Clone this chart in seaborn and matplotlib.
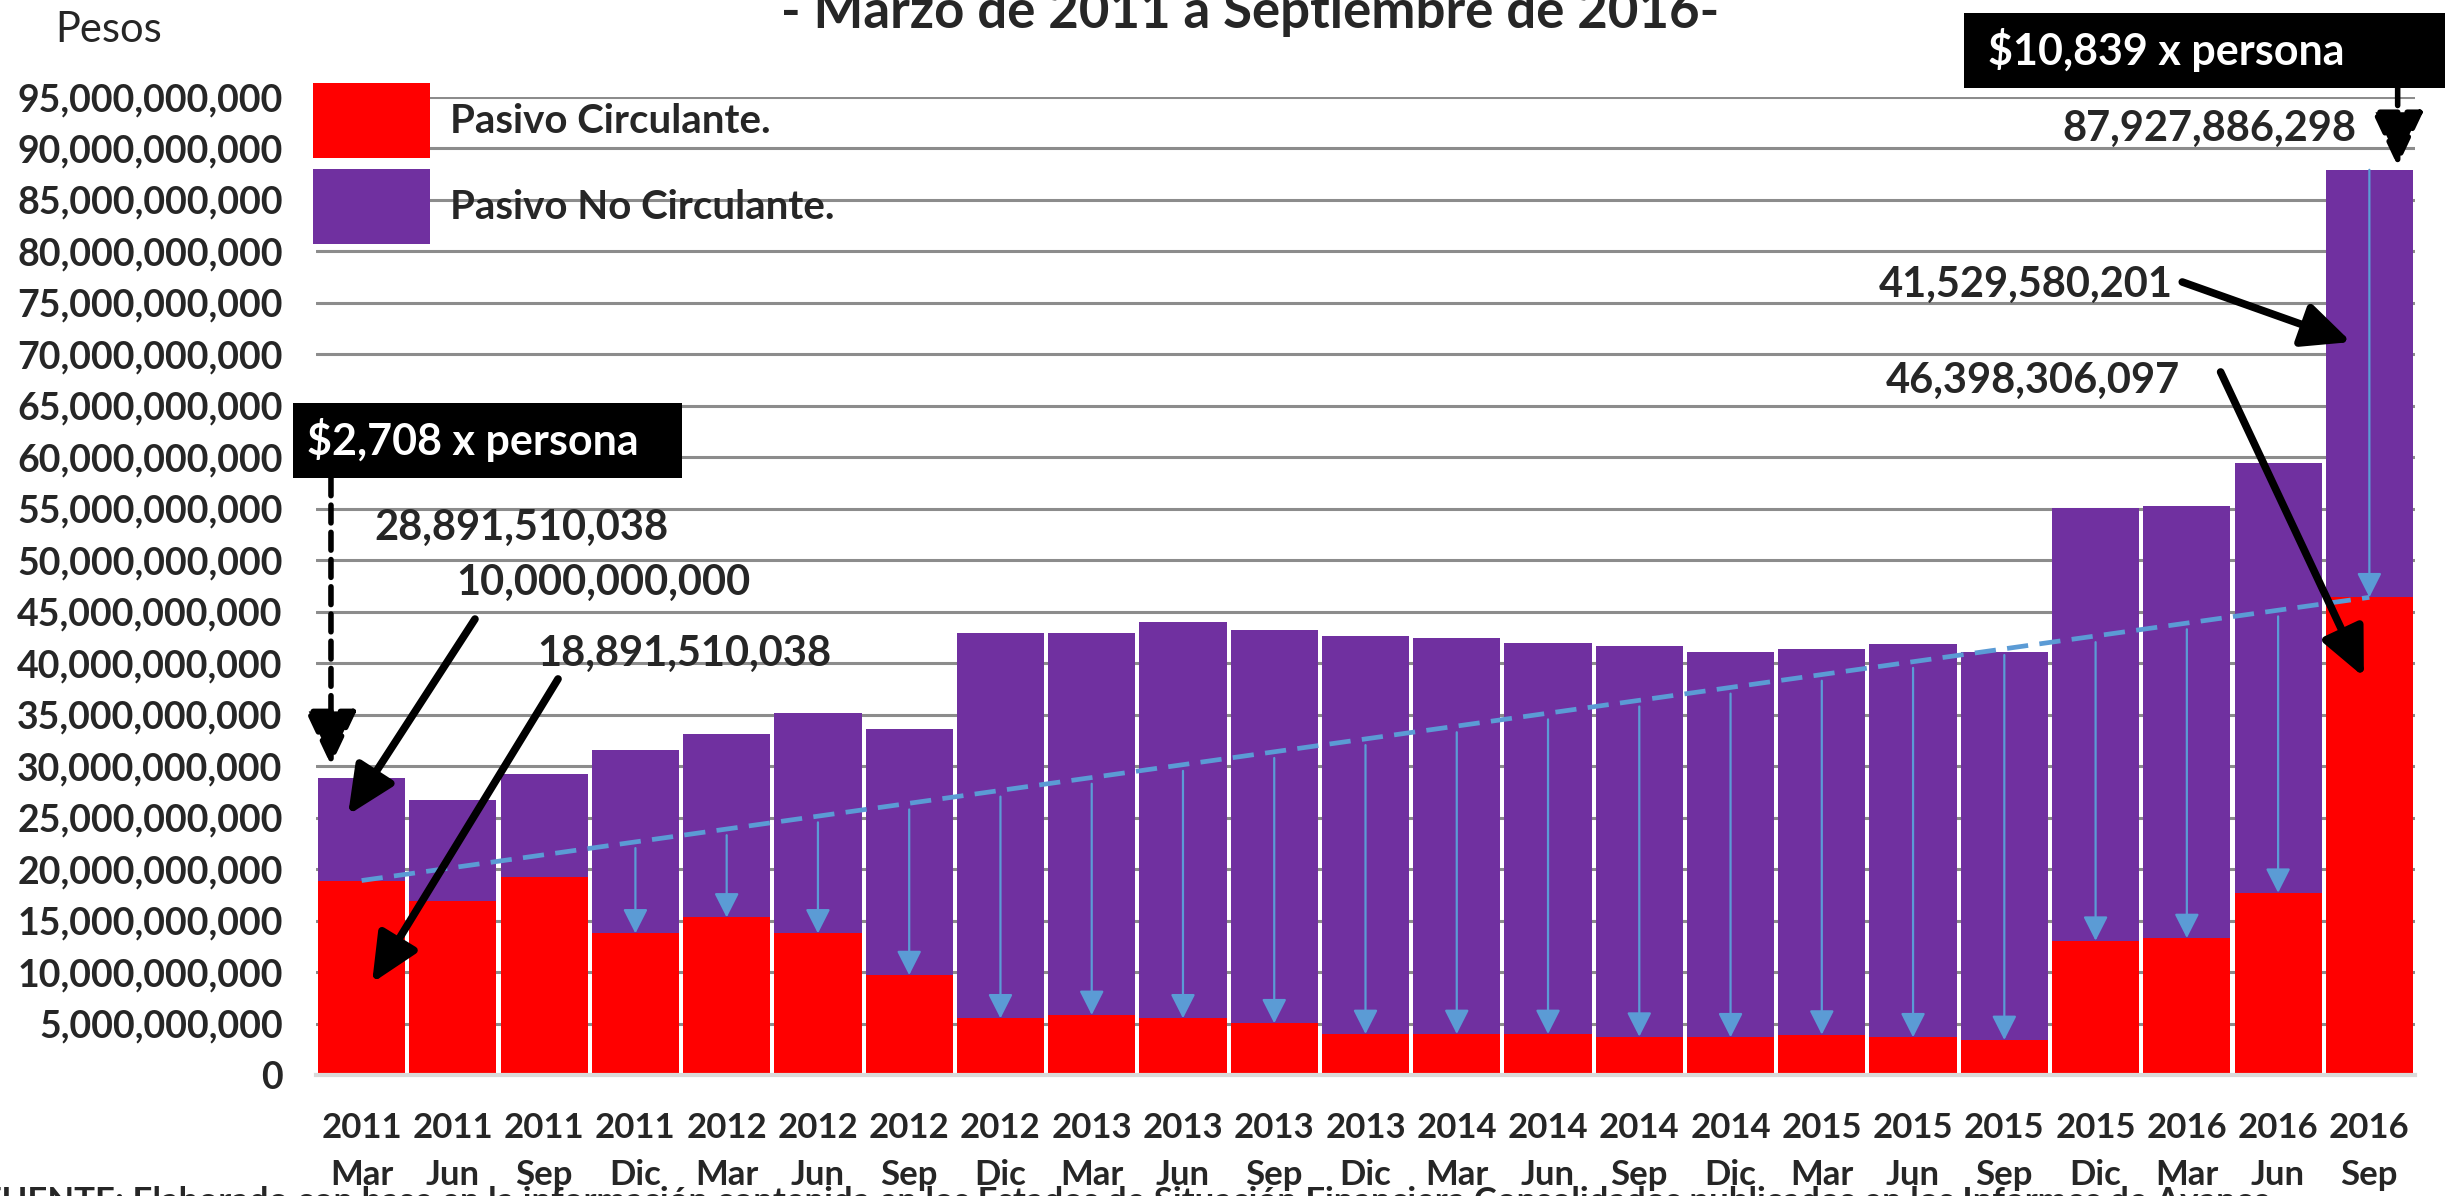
import numpy as np
import pandas as pd
import matplotlib
matplotlib.use("Agg")
import matplotlib.pyplot as plt
import seaborn as sns
from matplotlib.patches import Patch, Rectangle
from matplotlib.ticker import FuncFormatter, MultipleLocator

# ---------------- data ----------------
years = ["2011", "2011", "2011", "2011", "2012", "2012", "2012", "2012",
         "2013", "2013", "2013", "2013", "2014", "2014", "2014", "2014",
         "2015", "2015", "2015", "2015", "2016", "2016", "2016"]
months = ["Mar", "Jun", "Sep", "Dic", "Mar", "Jun", "Sep", "Dic",
          "Mar", "Jun", "Sep", "Dic", "Mar", "Jun", "Sep", "Dic",
          "Mar", "Jun", "Sep", "Dic", "Mar", "Jun", "Sep"]
pasivo_circulante = [18891510038, 16.86e9, 19.19e9, 13.75e9, 15.30e9, 13.75e9, 9.70e9, 5.50e9,
                     5.83e9, 5.50e9, 5.02e9, 3.98e9, 3.98e9, 3.98e9, 3.72e9, 3.66e9,
                     3.92e9, 3.66e9, 3.40e9, 13.04e9, 13.30e9, 17.70e9, 46398306097]
pasivo_no_circulante = [10000000000, 9.84e9, 10.06e9, 17.80e9, 17.80e9, 21.45e9, 23.95e9, 37.45e9,
                        37.12e9, 38.48e9, 38.18e9, 38.71e9, 38.45e9, 37.96e9, 37.93e9, 37.47e9,
                        37.47e9, 38.25e9, 37.70e9, 42.01e9, 42.00e9, 41.75e9, 41529580201]
per_capita_labels = ["$2,708 x persona", "$10,839 x persona"]
legend_labels = ["Pasivo Circulante.", "Pasivo No Circulante."]
title_text = "- Marzo de 2011 a Septiembre de 2016-"
footnote = ("FUENTE: Elaborado con base en la información contenida en los Estados de Situación "
            "Financiera Consolidados publicados en los Informes de Avance")

# ---------------- style ----------------
RED = "#FF0000"
PURPLE = "#7030A0"
BLUE = "#5B9BD5"
GRID = "#8C8C8C"

sns.set_theme(style="white")
FONT = ["Lato", "DejaVu Sans"]
plt.rcParams["font.family"] = FONT

df = pd.DataFrame({
    "periodo": [f"{y}\n{m}" for y, m in zip(years, months)],
    "circulante": pasivo_circulante,
    "no_circulante": pasivo_no_circulante,
})
df["total"] = df["circulante"] + df["no_circulante"]
n = len(df)

W, H = 2458, 1196
fig = plt.figure(figsize=(W / 100, H / 100), dpi=100)
ax_l, ax_r, ax_t, ax_b = 316, 2415, 97, 1075
ax = fig.add_axes([ax_l / W, 1 - ax_b / H, (ax_r - ax_l) / W, (ax_b - ax_t) / H])

sns.barplot(data=df, x="periodo", y="total", color=PURPLE, saturation=1,
            width=0.955, errorbar=None, linewidth=0, ax=ax, zorder=2)
sns.barplot(data=df, x="periodo", y="circulante", color=RED, saturation=1,
            width=0.955, errorbar=None, linewidth=0, ax=ax, zorder=3)

ax.set_xlim(-0.5, n - 0.5)
ax.set_ylim(0, 95e9)
ax.yaxis.set_major_locator(MultipleLocator(5e9))
ax.yaxis.set_major_formatter(FuncFormatter(lambda v, p: f"{int(round(v)):,}"))
ax.set_xlabel("")
ax.set_ylabel("")
ax.yaxis.grid(True, color=GRID, lw=2.2, zorder=0)
ax.xaxis.grid(False)
ax.set_axisbelow(True)
for s in ["top", "right", "left"]:
    ax.spines[s].set_visible(False)
ax.spines["bottom"].set_color("#D9D9D9")
ax.spines["bottom"].set_linewidth(3)
ax.spines["bottom"].set_zorder(4)
ax.tick_params(axis="y", length=0, pad=24, labelsize=27)
ax.tick_params(axis="x", length=0, pad=27, labelsize=25)
for lab in ax.get_yticklabels() + ax.get_xticklabels():
    lab.set_fontweight("bold")
    lab.set_family(FONT)
for lab in ax.get_xticklabels():
    lab.set_linespacing(1.55)

# trend line between first and last current liabilities
x_idx = np.arange(n)
trend = np.interp(x_idx, [0, n - 1], [pasivo_circulante[0], pasivo_circulante[-1]])
ax.plot([0, n - 1], [pasivo_circulante[0], pasivo_circulante[-1]], color=BLUE, lw=3.4,
        dashes=(4.5, 2.4), zorder=6)

blue_arrow = dict(arrowstyle="-|>,head_length=0.75,head_width=0.38", color=BLUE, lw=1.6,
                  mutation_scale=20, shrinkA=0, shrinkB=0)
for i in range(3, n - 1):
    ax.annotate("", xy=(i, pasivo_circulante[i]), xytext=(i, trend[i] - 0.6e9),
                arrowprops=blue_arrow, zorder=7)
ax.annotate("", xy=(n - 1, pasivo_circulante[-1]), xytext=(n - 1, df["total"].iloc[-1]),
            arrowprops=blue_arrow, zorder=7)

# legend
handles = [Patch(facecolor=RED, edgecolor="none"), Patch(facecolor=PURPLE, edgecolor="none")]
leg = ax.legend(handles, legend_labels, loc="upper left", bbox_to_anchor=(-0.0015, 1.014),
                frameon=False, borderpad=0, borderaxespad=0, handlelength=2.9,
                handleheight=2.49, handletextpad=0.5, labelspacing=0.27,
                prop=dict(family=FONT, weight="bold", size=29))
leg.set_zorder(8)

# ---------------- annotations ----------------
BIG = 30
txt_kw = dict(ha="center", va="center", fontsize=BIG, fontweight="bold", family=FONT,
              zorder=10, annotation_clip=False)
black_arrow = dict(arrowstyle="-|>,head_length=0.65,head_width=0.3", color="black", lw=5.5,
                   mutation_scale=45, shrinkA=0, shrinkB=0)

ax.annotate(f"{df['total'].iloc[0]:,.0f}", xy=(1.746, 53.13e9), **txt_kw)
ax.annotate(f"{pasivo_no_circulante[0]:,.0f}", xy=(2.645, 47.79e9), **txt_kw)
ax.annotate(f"{pasivo_circulante[0]:,.0f}", xy=(3.532, 40.89e9), **txt_kw)
ax.annotate("", xy=(-0.149, 25.26e9), xytext=(1.242, 44.29e9), arrowprops=black_arrow,
            annotation_clip=False, zorder=10)
ax.annotate("", xy=(0.114, 8.94e9), xytext=(2.152, 38.47e9), arrowprops=black_arrow,
            annotation_clip=False, zorder=10)

ax.annotate(f"{df['total'].iloc[-1]:,.0f}", xy=(20.25, 91.89e9), **txt_kw)
ax.annotate(f"{pasivo_no_circulante[-1]:,.0f}", xy=(18.23, 76.74e9), **txt_kw)
ax.annotate(f"{pasivo_circulante[-1]:,.0f}", xy=(18.31, 67.41e9), **txt_kw)
ax.annotate("", xy=(21.80, 71.20e9), xytext=(19.95, 77.03e9), arrowprops=black_arrow,
            annotation_clip=False, zorder=10)
ax.annotate("", xy=(21.94, 38.66e9), xytext=(20.37, 68.29e9), arrowprops=black_arrow,
            annotation_clip=False, zorder=10)

dashed_arrow = dict(arrowstyle="-|>,head_length=0.85,head_width=0.4", color="black", lw=4,
                    linestyle=(0, (3.2, 1.7)), mutation_scale=40, shrinkA=0, shrinkB=0)
ax.annotate("", xy=(-0.336, 30.1e9), xytext=(-0.336, 58.0e9), arrowprops=dashed_arrow,
            annotation_clip=False, zorder=10)
ax.annotate("", xy=(22.31, 88.3e9), xytext=(22.31, 95.9e9), arrowprops=dashed_arrow,
            annotation_clip=False, zorder=10)

# black boxes
def black_box(x0, y0, x1, y1, text, tx):
    fig.patches.append(Rectangle((x0 / W, 1 - y1 / H), (x1 - x0) / W, (y1 - y0) / H,
                                 transform=fig.transFigure, facecolor="black",
                                 edgecolor="none", zorder=9))
    fig.text(tx / W, 1 - ((y0 + y1) / 2) / H, text, color="white", fontsize=31,
             fontweight="bold", family=FONT, ha="left", va="center", zorder=11)

black_box(293, 403, 682, 478, per_capita_labels[0], 307)
black_box(1964, 13, 2445, 88, per_capita_labels[1], 1988)

# title, unit and footnote
fig.text(1250 / W, 1 - 28 / H, title_text, ha="center", va="baseline", fontsize=38,
         fontweight="bold", family=FONT)
fig.text(55 / W, 1 - 30 / H, "Pesos", ha="left", va="center", fontsize=30, family=FONT)
fig.text(-18 / W, 1 - 1186 / H, footnote, ha="left", va="top", fontsize=25,
         fontweight="bold", family=FONT)

fig.savefig("out.png", dpi=100)
